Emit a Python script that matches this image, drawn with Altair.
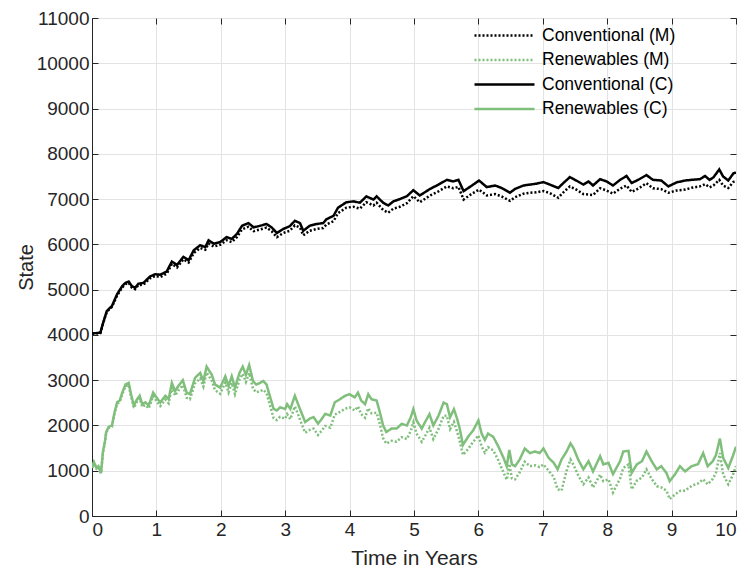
import altair as alt
import pandas as pd

# ---- data ----
t_conv = [0, 0.13, 0.18, 0.23, 0.31, 0.39, 0.47, 0.52, 0.57, 0.62, 0.67, 0.72, 0.80, 0.90, 0.98,
          1.06, 1.16, 1.24, 1.32, 1.42, 1.50, 1.58, 1.68, 1.76, 1.81, 1.89, 1.99, 2.09, 2.17, 2.25,
          2.33, 2.43, 2.51, 2.61, 2.71, 2.79, 2.87, 2.97, 3.07, 3.15, 3.23, 3.28, 3.38, 3.49, 3.59,
          3.64, 3.75, 3.82, 3.95, 4.06, 4.16, 4.26, 4.37, 4.42, 4.52, 4.60, 4.68, 4.78, 4.89, 4.99,
          5.09, 5.25, 5.38, 5.51, 5.61, 5.69, 5.77, 5.90, 6.01, 6.13, 6.26, 6.36, 6.49, 6.57, 6.70,
          6.80, 6.90, 7.01, 7.11, 7.24, 7.32, 7.42, 7.52, 7.63, 7.71, 7.78, 7.89, 7.99, 8.09, 8.20,
          8.30, 8.38, 8.48, 8.61, 8.71, 8.84, 8.95, 9.08, 9.21, 9.31, 9.44, 9.52, 9.59, 9.65, 9.74,
          9.80, 9.88, 9.96, 10.0]
conv_c = [4030, 4050, 4300, 4530, 4640, 4900, 5080, 5150, 5180, 5075, 5040, 5130, 5150, 5290, 5340,
          5330, 5400, 5620, 5545, 5725, 5650, 5870, 5980, 5940, 6090, 6015, 6050, 6160, 6120, 6230,
          6410, 6470, 6375, 6410, 6450, 6375, 6250, 6340, 6400, 6520, 6470, 6300, 6410, 6450, 6470,
          6555, 6630, 6810, 6930, 6950, 6920, 7060, 6990, 7060, 6920, 6860, 6950, 7000, 7065, 7195,
          7080, 7225, 7320, 7425, 7390, 7425, 7175, 7300, 7410, 7265, 7300, 7245, 7140, 7225, 7300,
          7320, 7340, 7375, 7320, 7245, 7355, 7485, 7410, 7320, 7390, 7300, 7440, 7390, 7300, 7425,
          7510, 7355, 7425, 7530, 7425, 7410, 7280, 7370, 7410, 7425, 7440, 7510, 7425, 7480, 7655,
          7500, 7410, 7570, 7585]
conv_m = [4030, 4040, 4290, 4510, 4620, 4870, 5050, 5120, 5150, 5040, 5010, 5100, 5110, 5250, 5300,
          5280, 5350, 5570, 5490, 5670, 5600, 5810, 5920, 5880, 6020, 5950, 5990, 6090, 6050, 6160,
          6330, 6390, 6290, 6330, 6370, 6290, 6160, 6250, 6300, 6420, 6370, 6200, 6300, 6340, 6360,
          6440, 6510, 6690, 6810, 6830, 6790, 6930, 6860, 6920, 6760, 6700, 6790, 6830, 6910, 7065,
          6930, 7080, 7170, 7280, 7240, 7270, 6990, 7120, 7210, 7080, 7110, 7060, 6960, 7040, 7120,
          7140, 7150, 7180, 7130, 7030, 7150, 7280, 7210, 7110, 7100, 7090, 7240, 7190, 7120, 7230,
          7300, 7160, 7230, 7350, 7240, 7220, 7140, 7190, 7210, 7250, 7280, 7330, 7260, 7300, 7425,
          7300, 7245, 7380, 7390]

t_ren = [0, 0.03, 0.07, 0.10, 0.14, 0.17, 0.20, 0.22, 0.26, 0.31, 0.35, 0.39, 0.43, 0.47, 0.52,
         0.57, 0.60, 0.65, 0.70, 0.74, 0.78, 0.83, 0.88, 0.95, 1.00, 1.06, 1.14, 1.19, 1.24, 1.29,
         1.34, 1.41, 1.47, 1.52, 1.60, 1.68, 1.73, 1.78, 1.86, 1.91, 1.99, 2.07, 2.12, 2.17, 2.22,
         2.29, 2.34, 2.39, 2.44, 2.50, 2.55, 2.61, 2.66, 2.71, 2.76, 2.82, 2.87, 2.92, 3.00, 3.03,
         3.08, 3.15, 3.20, 3.26, 3.31, 3.38, 3.44, 3.51, 3.57, 3.62, 3.70, 3.77, 3.85, 3.93, 4.00,
         4.08, 4.13, 4.18, 4.24, 4.29, 4.34, 4.42, 4.47, 4.52, 4.57, 4.65, 4.73, 4.81, 4.89, 4.95,
         4.99, 5.04, 5.12, 5.17, 5.24, 5.30, 5.38, 5.46, 5.51, 5.56, 5.62, 5.67, 5.71, 5.76, 5.84,
         5.92, 6.00, 6.05, 6.10, 6.15, 6.23, 6.31, 6.39, 6.44, 6.48, 6.52, 6.57, 6.64, 6.72, 6.80,
         6.88, 6.95, 7.01, 7.09, 7.17, 7.23, 7.29, 7.37, 7.43, 7.48, 7.55, 7.63, 7.71, 7.78, 7.89,
         7.94, 8.02, 8.09, 8.20, 8.25, 8.33, 8.38, 8.46, 8.54, 8.61, 8.69, 8.77, 8.84, 8.92, 8.97,
         9.05, 9.13, 9.21, 9.31, 9.41, 9.49, 9.56, 9.64, 9.69, 9.75, 9.80, 9.88, 9.95, 10.0]
ren_c = [1065, 1190, 1060, 1100, 950, 1420, 1640, 1855, 1970, 2000, 2290, 2510, 2550, 2725, 2905,
         2940, 2725, 2440, 2580, 2655, 2470, 2510, 2440, 2725, 2620, 2510, 2655, 2580, 2940, 2760,
         2870, 3000, 2725, 2690, 3050, 3160, 2980, 3300, 3120, 2905, 2835, 3085, 2870, 3085, 2835,
         3160, 3300, 3120, 3335, 2980, 2905, 2940, 2980, 2905, 2655, 2365, 2330, 2400, 2365, 2470,
         2365, 2655, 2470, 2255, 2075, 2150, 2185, 2040, 2150, 2255, 2220, 2510, 2580, 2655, 2690,
         2620, 2725, 2550, 2470, 2690, 2580, 2550, 2290, 2000, 1855, 1930, 1930, 2035, 2000, 2180,
         2360, 2110, 1930, 2070, 2250, 2000, 2215, 2505, 2470, 2180, 2360, 2145, 1930, 1570, 1750,
         1895, 2110, 1820, 1680, 1820, 1750, 1535, 1285, 1100, 1460, 1140, 1100, 1245, 1490, 1390,
         1425, 1390, 1490, 1285, 1175, 1030, 1245, 1425, 1605, 1490, 1245, 1030, 1210, 985, 1320,
         1140, 1175, 925, 1210, 1425, 1440, 950, 1140, 1210, 1425, 1210, 1030, 1100, 950, 770,
         915, 1100, 985, 1100, 1145, 1390, 1100, 1210, 1350, 1710, 1285, 1060, 1320, 1530]
ren_m = [1060, 1180, 1050, 1090, 940, 1410, 1620, 1835, 1950, 1975, 2260, 2480, 2515, 2690, 2865,
         2895, 2680, 2390, 2530, 2600, 2410, 2450, 2375, 2650, 2540, 2430, 2570, 2490, 2840, 2660,
         2770, 2890, 2610, 2580, 2930, 3040, 2860, 3170, 2990, 2780, 2700, 2950, 2730, 2940, 2690,
         3010, 3140, 2960, 3160, 2810, 2730, 2760, 2790, 2710, 2460, 2160, 2120, 2190, 2150, 2250,
         2140, 2420, 2240, 2020, 1840, 1900, 1930, 1790, 1890, 1990, 1950, 2240, 2300, 2370, 2400,
         2330, 2420, 2250, 2170, 2380, 2270, 2280, 2030, 1720, 1600, 1660, 1640, 1740, 1700, 1880,
         2070, 1820, 1640, 1760, 1950, 1700, 1920, 2215, 2215, 1920, 2080, 1860, 1650, 1350, 1480,
         1640, 1780, 1540, 1400, 1520, 1450, 1230, 960, 800, 1150, 830, 810, 960, 1200, 1100,
         1120, 1080, 1140, 1000, 860, 590, 560, 1000, 1245, 1120, 900, 700, 850, 630, 915,
         770, 810, 520, 830, 1060, 1140, 590, 780, 850, 1030, 820, 660, 630, 560, 375,
         470, 555, 560, 665, 720, 810, 700, 820, 960, 1390, 920, 700, 900, 1100]

series_names = ["Conventional (M)", "Renewables (M)", "Conventional (C)", "Renewables (C)"]
series_colors = ["#000000", "#7fbf7b", "#000000", "#7fbf7b"]
series_dash = [[2, 2], [2, 2], [1, 0], [1, 0]]
x_ticks = list(range(0, 11))
y_ticks = list(range(0, 11001, 1000))

W, H = 644, 498

frames = []
for name, tt, vv in [(series_names[0], t_conv, conv_m), (series_names[1], t_ren, ren_m),
                     (series_names[2], t_conv, conv_c), (series_names[3], t_ren, ren_c)]:
    frames.append(pd.DataFrame({"t": tt, "v": vv, "series": name}))
df = pd.concat(frames, ignore_index=True)

color = alt.Color("series:N", scale=alt.Scale(domain=series_names, range=series_colors),
                  legend=alt.Legend(title=None, orient="none", legendX=399, legendY=4, padding=0,
                                    symbolType="M-2.5,0H2.5", symbolSize=576, symbolStrokeWidth=2.5,
                                    labelFontSize=17.5, labelColor="#000000",
                                    labelFont="Liberation Sans", rowPadding=2.5, labelOffset=24))
dash = alt.StrokeDash("series:N", scale=alt.Scale(domain=series_names, range=series_dash), legend=None)

xs = alt.Scale(domain=[0, 10], nice=False)
ys = alt.Scale(domain=[0, 11000], nice=False)

inward = alt.ExprRef("-6")   # ticks pointing into the plot, as in the reference

axes = [
    # main axes: labels, grid, titles, inward ticks on bottom and left
    (alt.Axis(values=x_ticks, format="d", title="Time in Years", ticks=True, tickSize=inward,
              labelPadding=10),
     alt.Axis(values=y_ticks, format="d", title="State", ticks=True, tickSize=inward,
              labelPadding=9)),
    # inward ticks on top and right
    (alt.Axis(orient="top", values=x_ticks, labels=False, domain=False, grid=False,
              ticks=True, tickSize=inward, title=None),
     alt.Axis(orient="right", values=y_ticks, labels=False, domain=False, grid=False,
              ticks=True, tickSize=inward, title=None)),
    (None, None),
    (None, None),
]

layers = []
for s, (ax, ay) in zip(series_names, axes):
    layers.append(
        alt.Chart(df).transform_filter(alt.datum.series == s)
        .mark_line(strokeWidth=2.5, clip=True)
        .encode(
            x=alt.X("t:Q", scale=xs, axis=ax),
            y=alt.Y("v:Q", scale=ys, axis=ay),
            color=color,
            strokeDash=dash,
            order="t:Q",
        )
    )

chart = alt.layer(*layers).resolve_axis(x="independent", y="independent").properties(
    width=W, height=H,
    autosize=alt.AutoSizeParams(type="none"),
    padding={"left": 84, "top": 10, "right": 3, "bottom": 59},
).configure_view(
    stroke="#262626", strokeWidth=1
).configure_axis(
    gridColor="#e3e3e3", gridWidth=1,
    domainColor="#262626", tickColor="#262626", tickWidth=1,
    labelFont="Liberation Sans", labelFontSize=19, labelColor="#262626",
    titleFont="Liberation Sans", titleFontSize=21, titleColor="#262626", titleFontWeight="normal",
).configure_axisX(titlePadding=8).configure_axisY(titlePadding=0, titleFontSize=20)

chart.save("out.html", embed_options={"renderer": "svg", "actions": False})
